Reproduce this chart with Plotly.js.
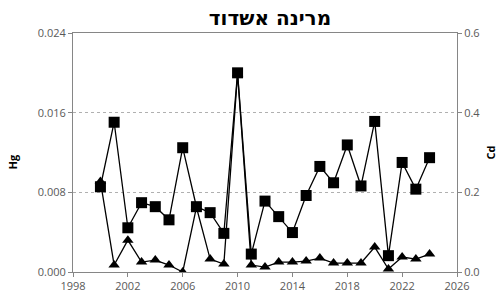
<!DOCTYPE html>
<html>
<head>
<meta charset="utf-8">
<script src="https://cdn.plot.ly/plotly-3.0.1.min.js"></script>
<style>html,body{margin:0;padding:0;background:#fff;}#chart{width:501px;height:299px;}</style>
</head>
<body>
<div id="chart"></div>
<script>
const years = [2000,2001,2002,2003,2004,2005,2006,2007,2008,2009,2010,2011,2012,2013,2014,2015,2016,2017,2018,2019,2020,2021,2022,2023,2024];
const hgValues = [0.0091,0.0007,0.0032,0.0010,0.0012,0.0007,0.0000,0.0065,0.0013,0.0008,0.0199,0.0007,0.0005,0.0010,0.0010,0.0011,0.0014,0.0009,0.0009,0.0009,0.0025,0.0003,0.0015,0.0013,0.0018];
const cdValues = [0.214,0.376,0.111,0.174,0.164,0.131,0.312,0.164,0.149,0.097,0.500,0.045,0.178,0.139,0.099,0.192,0.265,0.224,0.319,0.216,0.378,0.041,0.275,0.208,0.287];
const xTicks = [1998,2002,2006,2010,2014,2018,2022,2026];
const hgTicks = [0,0.008,0.016,0.024];
const cdTicks = [0,0.2,0.4,0.6];
const titleText = 'מרינה אשדוד';

const font = "'Open Sans', 'Liberation Sans', sans-serif";
const tickFont = {family: font, size: 11, color: '#595959'};

const data = [
  {x: years, y: hgValues, type: 'scatter', mode: 'lines+markers', name: 'Hg', yaxis: 'y',
   line: {color: '#000', width: 1.3}, marker: {symbol: 'triangle-up', size: 10, color: '#000'}},
  {x: years, y: cdValues, type: 'scatter', mode: 'lines+markers', name: 'Cd', yaxis: 'y2',
   line: {color: '#000', width: 1.3}, marker: {symbol: 'square', size: 11, color: '#000'}}
];

const layout = {
  width: 501, height: 299,
  margin: {l: 73, r: 44, t: 33, b: 27},
  paper_bgcolor: '#fff', plot_bgcolor: '#fff',
  showlegend: false,
  title: {text: '<b>' + titleText + '</b>', x: 0.513, xref: 'paper', xanchor: 'center', y: 0.94, yanchor: 'middle',
          font: {family: "'DejaVu Sans', sans-serif", size: 20, color: '#000'}},
  xaxis: {range: [1998, 2026], tickvals: xTicks, ticktext: xTicks.map(String), showgrid: false, zeroline: false,
          showline: true, linecolor: '#868686', linewidth: 1, mirror: true,
          ticks: 'outside', ticklen: 4, tickcolor: '#868686', tickfont: tickFont},
  yaxis: {range: [0, 0.024], tickvals: hgTicks, ticktext: hgTicks.map(v => v.toFixed(3)), zeroline: false,
          showgrid: true, gridcolor: '#b0b0b0', griddash: 'dot', gridwidth: 1,
          showline: true, linecolor: '#868686', linewidth: 1,
          ticks: 'outside', ticklen: 4, tickcolor: '#868686', tickfont: tickFont},
  yaxis2: {range: [0, 0.6], tickvals: cdTicks, ticktext: cdTicks.map(v => v.toFixed(1)), overlaying: 'y', side: 'right',
          showgrid: false, zeroline: false, showline: true, linecolor: '#868686', linewidth: 1,
          ticks: 'outside', ticklen: 4, tickcolor: '#868686', tickfont: tickFont},
  annotations: [
    {text: '<b>Hg</b>', xref: 'paper', yref: 'paper', x: -0.158, y: 0.46, xanchor: 'center', yanchor: 'middle',
     textangle: -90, showarrow: false, font: {family: font, size: 11, color: '#000'}},
    {text: '<b>Cd</b>', xref: 'paper', yref: 'paper', x: 1.086, y: 0.5, xanchor: 'center', yanchor: 'middle',
     textangle: -90, showarrow: false, font: {family: font, size: 11, color: '#000'}}
  ]
};

Plotly.newPlot('chart', data, layout, {displayModeBar: false, staticPlot: true});
</script>
</body>
</html>
